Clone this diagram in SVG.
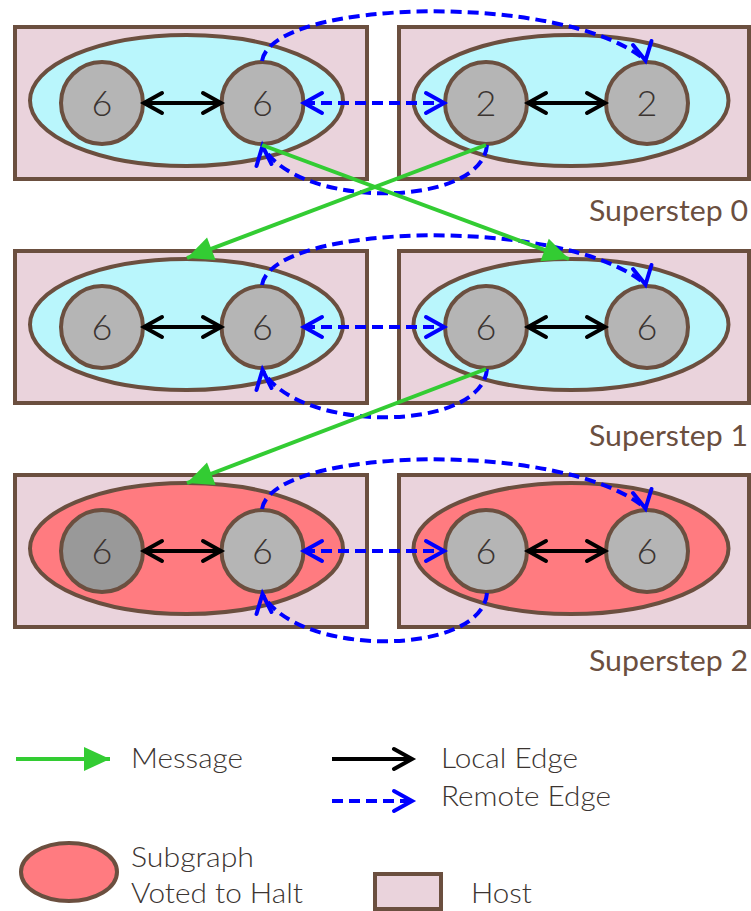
<svg xmlns="http://www.w3.org/2000/svg" width="751" height="911" viewBox="0 0 751 911">
<style>
.host{fill:#ead3dc;stroke:#6b4f3f;stroke-width:4}
.sg{fill:#b9f6fc;stroke:#6b4f3f;stroke-width:4}
.sgh{fill:#ff7b80;stroke:#6b4f3f;stroke-width:4}
.v{fill:#b5b5b5;stroke:#6b4f3f;stroke-width:4}
.vh{fill:#999999;stroke:#6b4f3f;stroke-width:4}
.num{font-family:Lato,"Liberation Sans",sans-serif;font-weight:300;font-size:36px;fill:#3b3431;text-anchor:middle}
.step{font-family:Lato,"Liberation Sans",sans-serif;font-size:28px;fill:#6b4f3f;text-anchor:end}
.leg{font-family:Lato,"Liberation Sans",sans-serif;font-weight:300;font-size:28px;fill:#3b3431}
.local{fill:none;stroke:#000;stroke-width:4;marker-start:url(#chevK);marker-end:url(#chevK)}
.remote{fill:none;stroke:#0000ff;stroke-width:4;stroke-dasharray:11 6}
.head{fill:none;stroke:#0000ff;stroke-width:4;stroke-linecap:round}
.msg{fill:none;stroke:#33cc33;stroke-width:4;marker-end:url(#tri)}
</style>
<defs>
<marker id="chevK" markerUnits="userSpaceOnUse" markerWidth="26" markerHeight="26" refX="21" refY="13" orient="auto-start-reverse" overflow="visible">
<path d="M3,3 L21,13 L3,23" fill="none" stroke="#000" stroke-width="4" stroke-linecap="round" stroke-linejoin="miter"/>
</marker>
<marker id="chevB" markerUnits="userSpaceOnUse" markerWidth="26" markerHeight="26" refX="21" refY="13" orient="auto-start-reverse" overflow="visible">
<path d="M3,3 L21,13 L3,23" fill="none" stroke="#0000ff" stroke-width="4" stroke-linecap="round" stroke-linejoin="miter"/>
</marker>
<marker id="tri" markerUnits="userSpaceOnUse" markerWidth="30" markerHeight="26" refX="26" refY="12" orient="auto" overflow="visible">
<path d="M0,0 L26,12 L0,24 z" fill="#33cc33"/>
</marker>
</defs>

<!-- Row 0 -->
<g id="host-0L"><rect class="host" x="15" y="27" width="352" height="152"/></g>
<g id="host-0R"><rect class="host" x="399" y="27" width="350" height="152"/></g>
<g id="sub-0L"><ellipse class="sg" cx="186.5" cy="100.5" rx="156.5" ry="65.5"/></g>
<g id="sub-0R"><ellipse class="sg" cx="571" cy="100.5" rx="157.5" ry="65.5"/></g>
<g id="v-0a"><circle class="v" cx="102" cy="103" r="41"/><text class="num" x="102" y="116">6</text></g>
<g id="v-0b"><circle class="v" cx="262.5" cy="103" r="41"/><text class="num" x="262.5" y="116">6</text></g>
<g id="v-0c"><circle class="v" cx="486" cy="103" r="41"/><text class="num" x="486" y="116">2</text></g>
<g id="v-0d"><circle class="v" cx="647" cy="103" r="41"/><text class="num" x="647" y="116">2</text></g>

<!-- Row 1 -->
<g id="host-1L"><rect class="host" x="15" y="251" width="352" height="152"/></g>
<g id="host-1R"><rect class="host" x="399" y="251" width="350" height="152"/></g>
<g id="sub-1L"><ellipse class="sg" cx="186.5" cy="324.5" rx="156.5" ry="65.5"/></g>
<g id="sub-1R"><ellipse class="sg" cx="571" cy="324.5" rx="157.5" ry="65.5"/></g>
<g id="v-1a"><circle class="v" cx="102" cy="327" r="41"/><text class="num" x="102" y="340">6</text></g>
<g id="v-1b"><circle class="v" cx="262.5" cy="327" r="41"/><text class="num" x="262.5" y="340">6</text></g>
<g id="v-1c"><circle class="v" cx="486" cy="327" r="41"/><text class="num" x="486" y="340">6</text></g>
<g id="v-1d"><circle class="v" cx="647" cy="327" r="41"/><text class="num" x="647" y="340">6</text></g>

<!-- Row 2 -->
<g id="host-2L"><rect class="host" x="15" y="475" width="352" height="152"/></g>
<g id="host-2R"><rect class="host" x="399" y="475" width="350" height="152"/></g>
<g id="sub-2L"><ellipse class="sgh" cx="186.5" cy="548.5" rx="156.5" ry="65.5"/></g>
<g id="sub-2R"><ellipse class="sgh" cx="571" cy="548.5" rx="157.5" ry="65.5"/></g>
<g id="v-2a"><circle class="vh" cx="102" cy="551" r="41"/><text class="num" x="102" y="564">6</text></g>
<g id="v-2b"><circle class="v" cx="262.5" cy="551" r="41"/><text class="num" x="262.5" y="564">6</text></g>
<g id="v-2c"><circle class="v" cx="486" cy="551" r="41"/><text class="num" x="486" y="564">6</text></g>
<g id="v-2d"><circle class="v" cx="647" cy="551" r="41"/><text class="num" x="647" y="564">6</text></g>

<!-- Connectors -->
<g id="connectors">
<g id="row0">
<path class="local" d="M144,103 H221"/>
<path class="local" d="M528,103 H605"/>
<path class="remote" d="M304,103 H444" marker-start="url(#chevB)" marker-end="url(#chevB)"/>
<path class="remote" d="M262,61 C272,-2 565,-8 645,60"/>
<path class="head" d="M633,45 L645.5,60.5 L651.5,41"/>
<path class="remote" d="M487,145 C482,208 300,210 263,147"/>
<path class="head" d="M256.5,166 L262.5,146 L271.5,164"/>
</g>
<g id="row1" transform="translate(0,224)">
<path class="local" d="M144,103 H221"/>
<path class="local" d="M528,103 H605"/>
<path class="remote" d="M304,103 H444" marker-start="url(#chevB)" marker-end="url(#chevB)"/>
<path class="remote" d="M262,61 C272,-2 565,-8 645,60"/>
<path class="head" d="M633,45 L645.5,60.5 L651.5,41"/>
<path class="remote" d="M487,145 C482,208 300,210 263,147"/>
<path class="head" d="M256.5,166 L262.5,146 L271.5,164"/>
</g>
<g id="row2" transform="translate(0,448)">
<path class="local" d="M144,103 H221"/>
<path class="local" d="M528,103 H605"/>
<path class="remote" d="M304,103 H444" marker-start="url(#chevB)" marker-end="url(#chevB)"/>
<path class="remote" d="M262,61 C272,-2 565,-8 645,60"/>
<path class="head" d="M633,45 L645.5,60.5 L651.5,41"/>
<path class="remote" d="M487,145 C482,208 300,210 263,147"/>
<path class="head" d="M256.5,166 L262.5,146 L271.5,164"/>
</g>
<g id="messages">
<path class="msg" d="M262,145 L569,259"/>
<path class="msg" d="M486,145 L187,258"/>
<path class="msg" d="M486,369 L187,483"/>
</g>
</g>

<!-- Superstep labels -->
<text class="step" x="748" y="221" textLength="159" lengthAdjust="spacingAndGlyphs">Superstep 0</text>
<text class="step" x="748" y="446" textLength="159" lengthAdjust="spacingAndGlyphs">Superstep 1</text>
<text class="step" x="748" y="671" textLength="159" lengthAdjust="spacingAndGlyphs">Superstep 2</text>

<!-- Legend -->
<g id="legend">
<path d="M16,759 H110" fill="none" stroke="#33cc33" stroke-width="4" marker-end="url(#tri)"/>
<text class="leg" x="131" y="768" textLength="112" lengthAdjust="spacingAndGlyphs">Message</text>
<path d="M332,759 H412" fill="none" stroke="#000" stroke-width="4" marker-end="url(#chevK)"/>
<text class="leg" x="441" y="768" textLength="137" lengthAdjust="spacingAndGlyphs">Local Edge</text>
<path d="M332,801 H412" class="remote" marker-end="url(#chevB)"/>
<text class="leg" x="441" y="806" textLength="170" lengthAdjust="spacingAndGlyphs">Remote Edge</text>
<ellipse class="sgh" cx="69" cy="872" rx="48" ry="29"/>
<text class="leg" x="131" y="867" textLength="123" lengthAdjust="spacingAndGlyphs">Subgraph</text>
<text class="leg" x="131" y="903" textLength="172" lengthAdjust="spacingAndGlyphs">Voted to Halt</text>
<rect class="host" x="375" y="874" width="66" height="35"/>
<text class="leg" x="471" y="903" textLength="61" lengthAdjust="spacingAndGlyphs">Host</text>
</g>
</svg>
